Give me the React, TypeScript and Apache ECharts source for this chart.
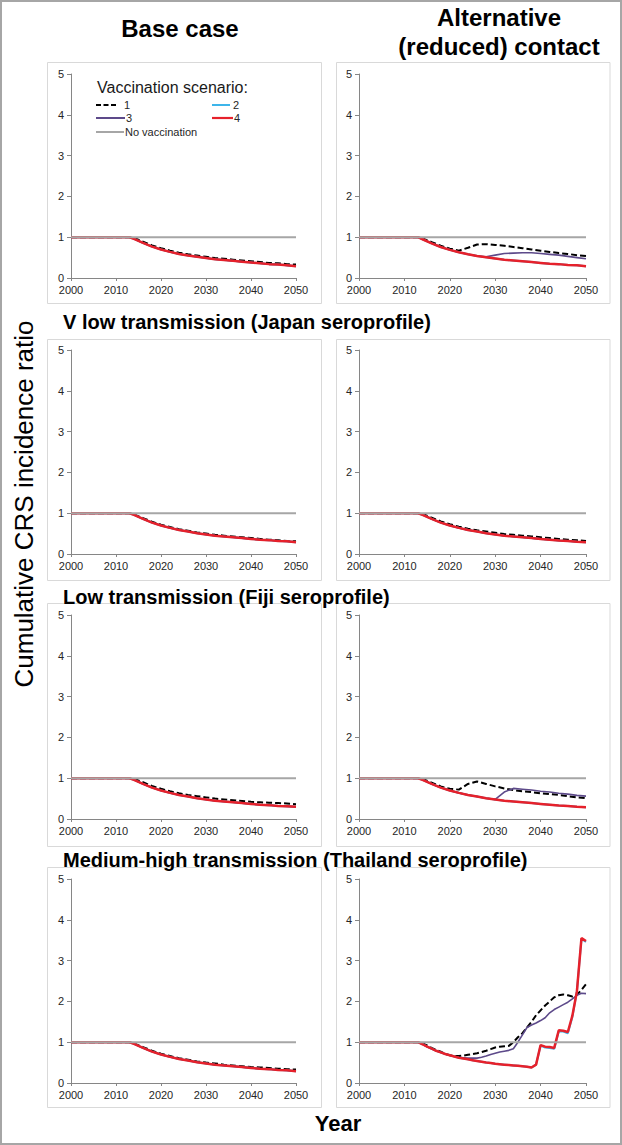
import React, { useEffect, useRef } from "react";
import * as echarts from "echarts";

const FONT = '"Liberation Sans", Arial, sans-serif';

// Column and row labels
const COL_TITLES = ["Base case", "Alternative\n(reduced) contact"];
const ROW_TITLES = [
  "V low transmission (Japan seroprofile)",
  "Low transmission (Fiji seroprofile)",
  "Medium-high transmission (Thailand seroprofile)",
];
const Y_TITLE = "Cumulative CRS incidence ratio";
const X_TITLE = "Year";
const LEGEND_TITLE = "Vaccination scenario:";
const SERIES_NAMES = ["1", "2", "3", "4", "No vaccination"];
const X_TICKS = [2000, 2010, 2020, 2030, 2040, 2050];
const Y_TICKS = [0, 1, 2, 3, 4, 5];

// Years at which the smooth curves are read
const YRS = [2000, 2013, 2014, 2016, 2018, 2020, 2022, 2024, 2026, 2028, 2030, 2032, 2034, 2036, 2038, 2040, 2042, 2044, 2046, 2048, 2050];
// Yearly read-off for the irregular panel
const FINE_YRS = [2000, 2013, 2014, 2015, 2016, 2017, 2018, 2019, 2020, 2021, 2022, 2023, 2024, 2025, 2026, 2027, 2028, 2029, 2030, 2031, 2032, 2033, 2034, 2035, 2036, 2037, 2038, 2039, 2040, 2041, 2042, 2043, 2044, 2045, 2046, 2047, 2048, 2049, 2050];
const NOVAC_YRS = [2000, 2050];
const NOVAC = [1, 1];

// Row 1
const R1_BASE_S1 = [1, 1, 0.98, 0.89, 0.80, 0.73, 0.67, 0.62, 0.58, 0.55, 0.52, 0.49, 0.47, 0.45, 0.43, 0.41, 0.39, 0.37, 0.36, 0.34, 0.33];
const R1_BASE_S234 = [1, 1, 0.96, 0.86, 0.77, 0.70, 0.64, 0.59, 0.55, 0.52, 0.49, 0.46, 0.44, 0.42, 0.40, 0.38, 0.36, 0.34, 0.33, 0.31, 0.29];
const R1_ALT_S1 = [1, 1, 0.97, 0.88, 0.79, 0.72, 0.67, 0.74, 0.82, 0.83, 0.81, 0.79, 0.76, 0.73, 0.70, 0.67, 0.64, 0.61, 0.59, 0.56, 0.54];
const R1_ALT_S3 = [1, 1, 0.95, 0.85, 0.76, 0.69, 0.63, 0.58, 0.54, 0.52, 0.56, 0.60, 0.61, 0.62, 0.62, 0.60, 0.58, 0.56, 0.53, 0.50, 0.47];
const R1_ALT_S24 = [1, 1, 0.95, 0.85, 0.76, 0.69, 0.63, 0.58, 0.54, 0.51, 0.48, 0.45, 0.43, 0.41, 0.39, 0.37, 0.35, 0.34, 0.32, 0.31, 0.29];
// Row 2
const R2_BASE_S1 = [1, 1, 0.97, 0.88, 0.79, 0.72, 0.66, 0.61, 0.57, 0.53, 0.50, 0.47, 0.45, 0.43, 0.41, 0.39, 0.37, 0.35, 0.34, 0.32, 0.31];
const R2_BASE_S234 = [1, 1, 0.96, 0.86, 0.77, 0.70, 0.64, 0.59, 0.55, 0.51, 0.48, 0.45, 0.43, 0.41, 0.39, 0.37, 0.35, 0.34, 0.32, 0.31, 0.29];
const R2_ALT_S1 = [1, 1, 0.98, 0.89, 0.80, 0.73, 0.67, 0.62, 0.58, 0.55, 0.52, 0.49, 0.47, 0.45, 0.43, 0.41, 0.39, 0.37, 0.35, 0.34, 0.32];
const R2_ALT_S234 = [1, 1, 0.96, 0.86, 0.77, 0.70, 0.64, 0.59, 0.55, 0.51, 0.48, 0.45, 0.43, 0.41, 0.39, 0.37, 0.35, 0.33, 0.32, 0.30, 0.29];
// Row 3
const R3_BASE_S1 = [1, 1, 0.98, 0.90, 0.81, 0.74, 0.68, 0.63, 0.59, 0.56, 0.53, 0.50, 0.48, 0.46, 0.44, 0.42, 0.41, 0.40, 0.39, 0.38, 0.36];
const R3_BASE_S234 = [1, 1, 0.96, 0.86, 0.77, 0.70, 0.64, 0.59, 0.55, 0.51, 0.48, 0.45, 0.43, 0.41, 0.39, 0.37, 0.35, 0.34, 0.32, 0.31, 0.30];
const R3_ALT_S1 = [1, 1, 0.98, 0.89, 0.80, 0.74, 0.72, 0.86, 0.92, 0.86, 0.80, 0.75, 0.71, 0.68, 0.66, 0.63, 0.61, 0.59, 0.56, 0.53, 0.51];
const R3_ALT_S3 = [1, 1, 0.96, 0.86, 0.77, 0.70, 0.64, 0.59, 0.55, 0.51, 0.48, 0.66, 0.75, 0.73, 0.71, 0.68, 0.66, 0.63, 0.61, 0.58, 0.56];
const R3_ALT_S24 = [1, 1, 0.96, 0.86, 0.77, 0.70, 0.64, 0.59, 0.55, 0.51, 0.48, 0.45, 0.43, 0.41, 0.39, 0.37, 0.35, 0.33, 0.32, 0.30, 0.29];
// Row 4
const R4_BASE_S1 = [1, 1, 0.97, 0.88, 0.79, 0.72, 0.66, 0.61, 0.57, 0.53, 0.50, 0.48, 0.45, 0.43, 0.41, 0.39, 0.38, 0.37, 0.35, 0.34, 0.33];
const R4_BASE_S234 = [1, 1, 0.96, 0.86, 0.77, 0.70, 0.64, 0.59, 0.55, 0.51, 0.48, 0.45, 0.43, 0.41, 0.39, 0.37, 0.35, 0.34, 0.32, 0.31, 0.29];
const R4_ALT_S1 = [1, 1, 0.97, 0.92, 0.86, 0.81, 0.77, 0.71, 0.68, 0.66, 0.66, 0.67, 0.69, 0.71, 0.73, 0.76, 0.79, 0.83, 0.87, 0.89, 0.90, 0.91, 1.00, 1.12, 1.22, 1.36, 1.50, 1.66, 1.78, 1.90, 2.00, 2.10, 2.15, 2.17, 2.15, 2.12, 2.16, 2.28, 2.42];
const R4_ALT_S2 = [1, 1, 0.95, 0.89, 0.84, 0.79, 0.75, 0.71, 0.68, 0.65, 0.62, 0.60, 0.58, 0.56, 0.54, 0.52, 0.50, 0.49, 0.47, 0.46, 0.45, 0.44, 0.43, 0.42, 0.41, 0.40, 0.38, 0.45, 0.92, 0.87, 0.86, 0.84, 1.27, 1.26, 1.22, 1.62, 2.25, 3.53, 3.46];
const R4_ALT_S3 = [1, 1, 0.95, 0.89, 0.84, 0.79, 0.75, 0.71, 0.68, 0.65, 0.63, 0.62, 0.61, 0.61, 0.61, 0.63, 0.66, 0.70, 0.73, 0.76, 0.78, 0.80, 0.84, 1.00, 1.18, 1.36, 1.42, 1.47, 1.53, 1.60, 1.72, 1.80, 1.86, 1.92, 1.98, 2.06, 2.15, 2.20, 2.19];
const R4_ALT_S4 = [1, 1, 0.95, 0.89, 0.84, 0.79, 0.75, 0.71, 0.68, 0.65, 0.62, 0.60, 0.58, 0.56, 0.54, 0.52, 0.50, 0.49, 0.47, 0.46, 0.45, 0.44, 0.43, 0.42, 0.41, 0.40, 0.38, 0.45, 0.93, 0.89, 0.88, 0.86, 1.29, 1.28, 1.25, 1.65, 2.25, 3.55, 3.48];

type Curve = { x: number[]; y: number[] };
const c = (x: number[], y: number[]): Curve => ({ x, y });

// panels: row-major, [base, alt] per row; each holds scenarios 1..4
const PANELS: Curve[][] = [
  [c(YRS, R1_BASE_S1), c(YRS, R1_BASE_S234), c(YRS, R1_BASE_S234), c(YRS, R1_BASE_S234)],
  [c(YRS, R1_ALT_S1), c(YRS, R1_ALT_S24), c(YRS, R1_ALT_S3), c(YRS, R1_ALT_S24)],
  [c(YRS, R2_BASE_S1), c(YRS, R2_BASE_S234), c(YRS, R2_BASE_S234), c(YRS, R2_BASE_S234)],
  [c(YRS, R2_ALT_S1), c(YRS, R2_ALT_S234), c(YRS, R2_ALT_S234), c(YRS, R2_ALT_S234)],
  [c(YRS, R3_BASE_S1), c(YRS, R3_BASE_S234), c(YRS, R3_BASE_S234), c(YRS, R3_BASE_S234)],
  [c(YRS, R3_ALT_S1), c(YRS, R3_ALT_S24), c(YRS, R3_ALT_S3), c(YRS, R3_ALT_S24)],
  [c(YRS, R4_BASE_S1), c(YRS, R4_BASE_S234), c(YRS, R4_BASE_S234), c(YRS, R4_BASE_S234)],
  [c(FINE_YRS, R4_ALT_S1), c(FINE_YRS, R4_ALT_S2), c(FINE_YRS, R4_ALT_S3), c(FINE_YRS, R4_ALT_S4)],
];

// Layout
const GRID_LEFT = [71, 359];
const GRID_WIDTH = [225, 227];
const GRID_TOP = [74, 350, 615, 879];
const GRID_HEIGHT = 204;
const BOX_X = [47.5, 336.5];
const BOX_W = [274, 273.5];
const BOX_Y = [62.5, 339.5, 603.5, 867.5];
const BOX_H = [241, 241, 243, 240];

const LINE_STYLES = [
  { color: "#000000", width: 2, type: [6, 3] as any },
  { color: "#3db5ea", width: 2, type: "solid" },
  { color: "#5d4a8a", width: 1.6, type: "solid" },
  { color: "#e6212b", width: 2.5, type: "solid" },
  { color: "#a6a6a6", width: 2, type: "solid" },
];

// legend item placement: [lineX1, lineX2, textX, y]
const LEGEND_POS = [
  [96, 117, 124, 105],
  [212, 230, 233, 105],
  [96, 125, 126, 118],
  [212, 233, 234, 118],
  [96, 124, 125, 132],
];

const AXIS_COLOR = "#868686";
const LABEL_COLOR = "#262626";

function buildOption() {
  const grid: any[] = [];
  const xAxis: any[] = [];
  const yAxis: any[] = [];
  const series: any[] = [];
  PANELS.forEach((curves, i) => {
    const row = Math.floor(i / 2);
    const col = i % 2;
    grid.push({ left: GRID_LEFT[col], top: GRID_TOP[row], width: GRID_WIDTH[col], height: GRID_HEIGHT });
    xAxis.push({
      type: "value", gridIndex: i, min: X_TICKS[0], max: X_TICKS[X_TICKS.length - 1], interval: 10,
      axisLine: { show: true, lineStyle: { color: AXIS_COLOR, width: 1 } },
      axisTick: { show: true, length: 3, lineStyle: { color: AXIS_COLOR } },
      axisLabel: { color: LABEL_COLOR, fontSize: 11, fontFamily: FONT, margin: 6, formatter: (v: number) => String(v) },
      splitLine: { show: false },
    });
    yAxis.push({
      type: "value", gridIndex: i, min: Y_TICKS[0], max: Y_TICKS[Y_TICKS.length - 1], interval: 1,
      axisLine: { show: true, lineStyle: { color: AXIS_COLOR, width: 1 } },
      axisTick: { show: true, length: 4, lineStyle: { color: AXIS_COLOR } },
      axisLabel: { color: LABEL_COLOR, fontSize: 11, fontFamily: FONT, margin: 7 },
      splitLine: { show: false },
    });
    const all: Curve[] = [...curves, c(NOVAC_YRS, NOVAC)];
    all.forEach((cv, k) => {
      const ls = LINE_STYLES[k];
      series.push({
        type: "line", name: SERIES_NAMES[k], xAxisIndex: i, yAxisIndex: i,
        data: cv.x.map((x, j) => [x, cv.y[j]]),
        symbol: "none", color: ls.color,
        lineStyle: { color: ls.color, width: ls.width, type: ls.type },
        z: 2 + k,
      });
    });
  });

  const graphic: any[] = [];
  graphic.push({ type: "rect", shape: { x: 1, y: 1, width: 620, height: 1143 }, style: { fill: "none", stroke: "#a6a6a6", lineWidth: 2 }, z: -1 });
  for (let r = 0; r < 4; r++) {
    for (let col = 0; col < 2; col++) {
      graphic.push({ type: "rect", shape: { x: BOX_X[col], y: BOX_Y[r], width: BOX_W[col], height: BOX_H[r] }, style: { fill: "none", stroke: "#d9d9d9", lineWidth: 1 }, z: -1 });
    }
  }
  graphic.push({ type: "text", x: 180, y: 28, style: { text: COL_TITLES[0], font: `bold 24px ${FONT}`, fill: "#000", textAlign: "center", textVerticalAlign: "middle" } });
  graphic.push({ type: "text", x: 499, y: 32, style: { text: COL_TITLES[1], font: `bold 24px ${FONT}`, fill: "#000", textAlign: "center", textVerticalAlign: "middle", lineHeight: 29 } });
  const rowTitleY = [322, 597, 860];
  ROW_TITLES.forEach((t, k) => {
    graphic.push({ type: "text", x: 63, y: rowTitleY[k], style: { text: t, font: `bold 20px ${FONT}`, fill: "#000", textAlign: "left", textVerticalAlign: "middle" } });
  });
  graphic.push({ type: "text", x: 24, y: 504, rotation: Math.PI / 2, style: { text: Y_TITLE, font: `26px ${FONT}`, fill: "#000", textAlign: "center", textVerticalAlign: "middle" } });
  graphic.push({ type: "text", x: 338, y: 1123, style: { text: X_TITLE, font: `bold 22px ${FONT}`, fill: "#000", textAlign: "center", textVerticalAlign: "middle" } });
  graphic.push({ type: "text", x: 97, y: 87, style: { text: LEGEND_TITLE, font: `16px ${FONT}`, fill: "#1a1a1a", textAlign: "left", textVerticalAlign: "middle" } });

  // Legend drawn as graphic lines + labels
  SERIES_NAMES.forEach((name, k) => {
    const [x1, x2, tx, y] = LEGEND_POS[k];
    const ls = LINE_STYLES[k];
    graphic.push({
      type: "line", shape: { x1, y1: y, x2, y2: y },
      style: { stroke: ls.color, lineWidth: k === 3 ? 2.2 : 2, lineDash: k === 0 ? [5, 2.5] : null },
    });
    graphic.push({ type: "text", x: tx, y, style: { text: name, font: `11px ${FONT}`, fill: LABEL_COLOR, textAlign: "left", textVerticalAlign: "middle" } });
  });

  return { animation: false, backgroundColor: "#ffffff", grid, xAxis, yAxis, series, graphic };
}

export default function App() {
  const ref = useRef<HTMLDivElement>(null);
  useEffect(() => {
    const chart = echarts.init(ref.current!, null, { renderer: "svg" });
    chart.setOption(buildOption() as any);
    return () => chart.dispose();
  }, []);
  return <div ref={ref} style={{ position: "absolute", left: 0, top: 0, width: 622, height: 1145, background: "#fff" }} />;
}
